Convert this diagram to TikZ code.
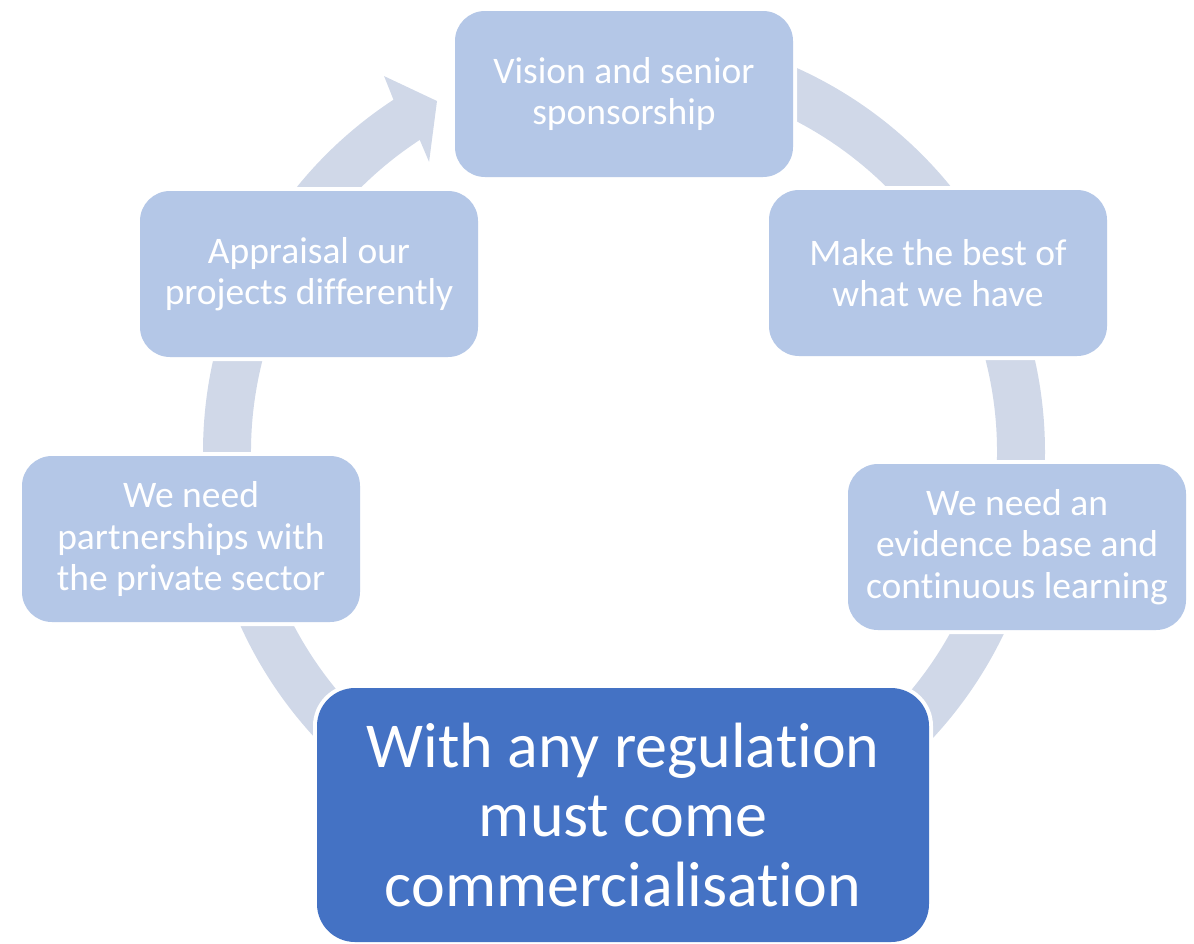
\documentclass[tikz,border=0pt]{standalone}
\usepackage{fontspec}
\setmainfont{Carlito}[Ligatures=NoCommon]
\usepackage{xcolor}
\definecolor{stagefill}{HTML}{B4C7E7}
\definecolor{ringfill}{HTML}{D0D8E8}
\definecolor{focusfill}{HTML}{4472C4}

\begin{document}
\begin{tikzpicture}[x=1pt,y=1pt]
		\tikzstyle{every node}+=[inner sep=0pt, text=white, align=center]
		\tikzstyle{stage}=[rounded corners=30pt, fill=stagefill, minimum width=338pt, minimum height=166pt, font=\fontsize{37.5}{41.5}\selectfont, preaction={draw=white, line width=8pt}]
		\tikzstyle{focus}=[stage, fill=focusfill, rounded corners=38pt, minimum width=612pt, minimum height=254pt, font=\fontsize{64}{69.5}\selectfont]
		\useasboundingbox (0,0) rectangle (1194,-943);
		\coordinate (hub) at (624,-452);
		\fill [ringfill, shift={(hub)}] (90:421) arc [start angle=90, end angle=-236.8, radius=421] -- (-237.45:446) -- (-241.95:397.7) -- (-236.1:349.5) -- (-236.8:373) arc [start angle=-236.8, end angle=90, radius=373] -- cycle;
		\node [stage] (vision) at (624,-94) {Vision and senior\\sponsorship};
		\node [stage] (best) at (938,-273) {Make the best of\\what we have};
		\node [stage] (evidence) at (1017,-547) {We need an\\evidence base and\\continuous learning};
		\node [stage] (partners) at (191,-539) {We need\\partnerships with\\the private sector};
		\node [stage] (appraisal) at (309,-274) {Appraisal our\\projects differently};
		\node [focus] (regulation) at (623,-815) {With any regulation\\must come\\commercialisation};
	\end{tikzpicture}
\end{document}
